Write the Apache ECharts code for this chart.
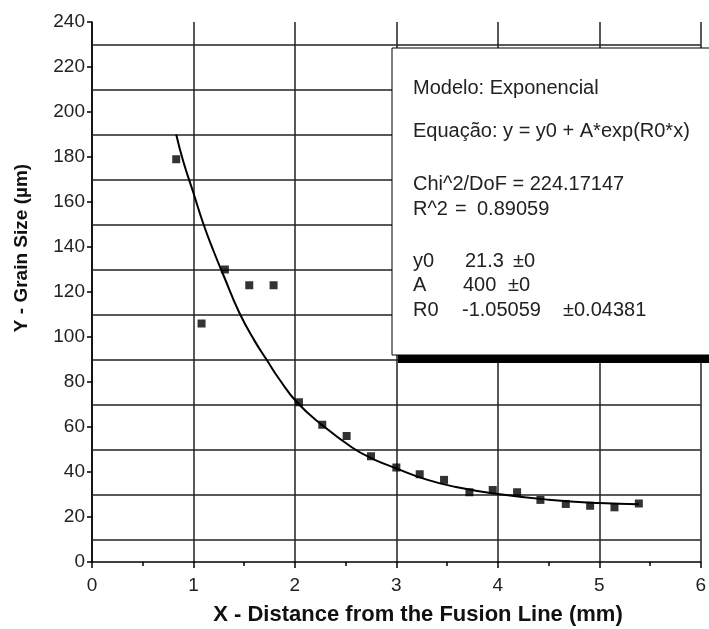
<!DOCTYPE html>
<html>
<head>
<meta charset="utf-8">
<script src="https://cdn.jsdelivr.net/npm/echarts@6/dist/echarts.min.js"></script>
<style>
  html, body { margin: 0; padding: 0; background: #fff; }
  #chart { width: 709px; height: 629px; }
</style>
</head>
<body>
<div id="chart"></div>
<script>
// measured points: distance from fusion line (mm) vs grain size (um)
const distance = [0.83, 1.08, 1.31, 1.55, 1.79, 2.04, 2.27, 2.51, 2.75, 3.0,
  3.23, 3.47, 3.72, 3.95, 4.19, 4.42, 4.67, 4.91, 5.15, 5.39]
const grainSize = [179, 106, 130, 123, 123, 71, 61, 56, 47, 42,
  39, 36.5, 31, 32, 31, 27.6, 25.8, 25, 24.3, 26]

// fitted curve as drawn in the picture
const fitX = [0.83, 0.9, 1.0, 1.1, 1.2, 1.3, 1.45, 1.6, 1.72, 1.85, 2.02, 2.27,
  2.56, 2.75, 3.0, 3.3, 3.6, 4.0, 4.5, 5.0, 5.39]
const fitY = [190, 178, 164, 150, 138, 127, 111, 98.5, 90, 81, 71, 60.8,
  51, 46.2, 41.6, 36.6, 33.2, 30.2, 27.7, 26.2, 25.7]

// horizontal grid lines sit between the labelled ticks
const gridY = [10, 30, 50, 70, 90, 110, 130, 150, 170, 190, 210, 230]

const fitLines = [
  ['Modelo: Exponencial'],
  ['Equação: y = y0 + A*exp(R0*x)'],
  ['Chi^2/DoF = 224.17147'],
  ['R^2', '=', '0.89059'],
  ['y0', '21.3', '±0'],
  ['A', '400', '±0'],
  ['R0', '-1.05059', '±0.04381']
]

const font = "'Liberation Sans', Arial, sans-serif"
const chart = echarts.init(document.getElementById('chart'))

function boxText() {
  const rowsY = [88, 131, 184, 209, 261, 285, 310]
  const cols = [
    [413],
    [413],
    [413],
    [413, 455, 477],
    [413, 465, 513],
    [413, 463, 508],
    [413, 462, 563]
  ]
  const out = []
  fitLines.forEach((row, i) => {
    row.forEach((t, j) => {
      out.push({
        type: 'text',
        z: 110,
        x: cols[i][j],
        y: rowsY[i],
        style: { text: t, fill: '#222', font: '20px ' + font, verticalAlign: 'middle' }
      })
    })
  })
  return out
}

chart.setOption({
  backgroundColor: '#fff',
  animation: false,
  grid: { left: 92, right: 6, top: 22, bottom: 67 },
  xAxis: {
    type: 'value',
    min: 0,
    max: 6,
    interval: 1,
    axisLine: { show: true, onZero: false, lineStyle: { color: '#000', width: 1.5 } },
    axisTick: { show: true, inside: false, length: 6, lineStyle: { color: '#000', width: 1.5 } },
    minorTick: { show: true, splitNumber: 2, length: 4, lineStyle: { color: '#000', width: 1.5 } },
    axisLabel: { color: '#222', fontSize: 19, fontFamily: font, margin: 14 },
    splitLine: { show: true, lineStyle: { color: '#222', width: 1.5 } }
  },
  yAxis: {
    type: 'value',
    min: 0,
    max: 240,
    interval: 20,
    axisLine: { show: true, onZero: false, lineStyle: { color: '#000', width: 1.5 } },
    axisTick: { show: true, inside: false, length: 5, lineStyle: { color: '#000', width: 1.5 } },
    axisLabel: { color: '#222', fontSize: 19, fontFamily: font, margin: 7 },
    splitLine: { show: false }
  },
  series: [
    {
      type: 'line',
      data: fitX.map((x, i) => [x, fitY[i]]),
      smooth: 0.5,
      showSymbol: false,
      lineStyle: { color: '#000', width: 2 },
      z: 3,
      markLine: {
        silent: true,
        symbol: 'none',
        label: { show: false },
        lineStyle: { color: '#222', width: 1.5, type: 'solid' },
        data: gridY.map(v => ({ yAxis: v })),
        z: 1
      }
    },
    {
      type: 'scatter',
      data: distance.map((x, i) => [x, grainSize[i]]),
      symbol: 'rect',
      symbolSize: 8,
      itemStyle: { color: '#000' },
      z: 4
    }
  ],
  graphic: [
    { type: 'rect', z: 100, shape: { x: 398, y: 54, width: 330, height: 309 }, style: { fill: '#000' } },
    { type: 'rect', z: 101, shape: { x: 392, y: 48, width: 330, height: 307 }, style: { fill: '#fff', stroke: '#000', lineWidth: 1 } },
    {
      type: 'group',
      z: 110,
      children: boxText()
    },
    {
      type: 'text',
      z: 100,
      x: 418,
      y: 615,
      style: {
        text: 'X - Distance from the Fusion Line (mm)',
        fill: '#111',
        font: 'bold 22px ' + font,
        align: 'center',
        verticalAlign: 'middle'
      }
    },
    {
      type: 'text',
      z: 100,
      x: 22,
      y: 248,
      rotation: Math.PI / 2,
      style: {
        text: 'Y - Grain Size (µm)',
        fill: '#111',
        font: 'bold 19px ' + font,
        align: 'center',
        verticalAlign: 'middle'
      }
    }
  ]
})
</script>
</body>
</html>
